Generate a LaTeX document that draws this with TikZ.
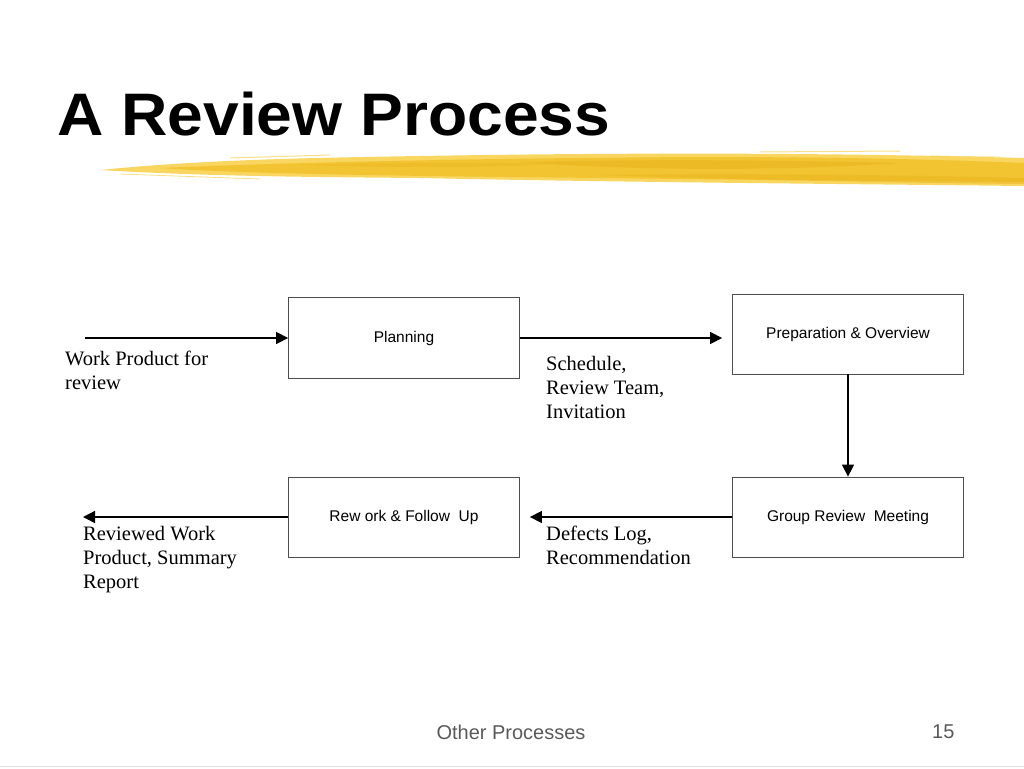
\documentclass[tikz,border=0pt]{standalone}
\usepackage{fontspec}
\setmainfont{Liberation Serif}
\setsansfont{Liberation Sans}
\usetikzlibrary{arrows.meta}
\definecolor{brushA}{HTML}{F2C12A}
\definecolor{brushB}{HTML}{F7D24E}
\definecolor{brushC}{HTML}{E9B31C}
\begin{document}
\begin{tikzpicture}[x=1pt,y=-1pt,
 box/.style={draw=black!70, line width=0.8pt, minimum width=231pt, minimum height=80pt, inner sep=0, font=\sffamily\fontsize{15.5}{18}\selectfont},
 flow/.style={line width=1.4pt, -{Triangle[length=12pt,width=12pt]}},
 lbl/.style={anchor=north west, inner sep=0, align=left, font=\rmfamily\fontsize{20.5}{24}\selectfont},
]
\useasboundingbox (0,0) rectangle (1024,768);
% brush stroke
\fill[brushB, opacity=0.9] (100,170) .. controls (200,160) and (300,158) .. (420,156)
  .. controls (600,153) and (800,152) .. (1024,158) -- (1024,186)
  .. controls (850,184) and (600,182) .. (420,178) .. controls (300,177) and (200,176) .. (100,170) -- cycle;
\fill[brushA, opacity=0.85] (160,168) .. controls (300,162) and (500,158) .. (700,157)
  .. controls (850,157) and (950,160) .. (1024,163) -- (1024,182)
  .. controls (900,181) and (750,180) .. (600,178) .. controls (400,176) and (250,174) .. (160,168) -- cycle;
\fill[brushC, opacity=0.6] (520,162) .. controls (650,159) and (780,160) .. (900,163)
  .. controls (800,170) and (650,172) .. (520,162) -- cycle;
\fill[brushC, opacity=0.5] (600,175) .. controls (750,173) and (900,175) .. (1024,178) -- (1024,184)
  .. controls (900,183) and (750,180) .. (600,175) -- cycle;
\fill[brushC, opacity=0.35] (300,165) .. controls (400,162) and (480,162) .. (560,164)
  .. controls (480,168) and (400,168) .. (300,165) -- cycle;
\draw[brushB, line width=1pt, opacity=0.7] (230,158) -- (330,155);
\draw[brushB, line width=1pt, opacity=0.7] (760,152) -- (900,151);
\draw[brushB, line width=0.8pt, opacity=0.7] (120,174) -- (260,179);
\draw[brushB, line width=0.8pt, opacity=0.6] (930,156) -- (1000,157);
% title
\node[anchor=base west, inner sep=0, font=\sffamily\bfseries\fontsize{60}{70}\selectfont] (title) at (57,135) {\scalebox{1.07}[1]{A Review Process}};
% boxes
\node[box, minimum height=81pt] (plan) at (404,338) {Planning};
\node[box] (prep) at (848,334) {Preparation \& Overview};
\node[box] (grm) at (848,517) {Group Review\ \ Meeting};
\node[box] (rwk) at (404,517) {Rew ork \& Follow\ \ Up};
\coordinate (in) at (85,338);
\coordinate (out) at (83,517);
% connectors
\draw[flow] (in) -- (in -| plan.west);
\draw[flow] (plan.east) -- ([xshift=-10pt]plan.east -| prep.west);
\draw[flow] (prep.south) -- (grm.north);
\draw[flow] (grm.west) -- ([xshift=10pt]rwk.east);
\draw[flow] (rwk.west) -- (rwk.west -| out);
% labels
\node[lbl] (l1) at (65,351) {Work Product for\\review};
\node[lbl] (l2) at (546,356) {Schedule,\\Review Team,\\Invitation};
\node[lbl] (l3) at (83,526) {Reviewed Work\\Product, Summary\\Report};
\node[lbl] (l4) at (546,526) {Defects Log,\\Recommendation};
% footer
\node[font=\sffamily\fontsize{20}{24}\selectfont, text=black!65] (foot) at (511,732) {Other Processes};
\node[anchor=east, font=\sffamily\fontsize{20}{24}\selectfont, text=black!65] (pg) at (958,732) {15};
\draw[black!12, line width=1pt] (0,766) -- (1024,766);
\end{tikzpicture}
\end{document}
